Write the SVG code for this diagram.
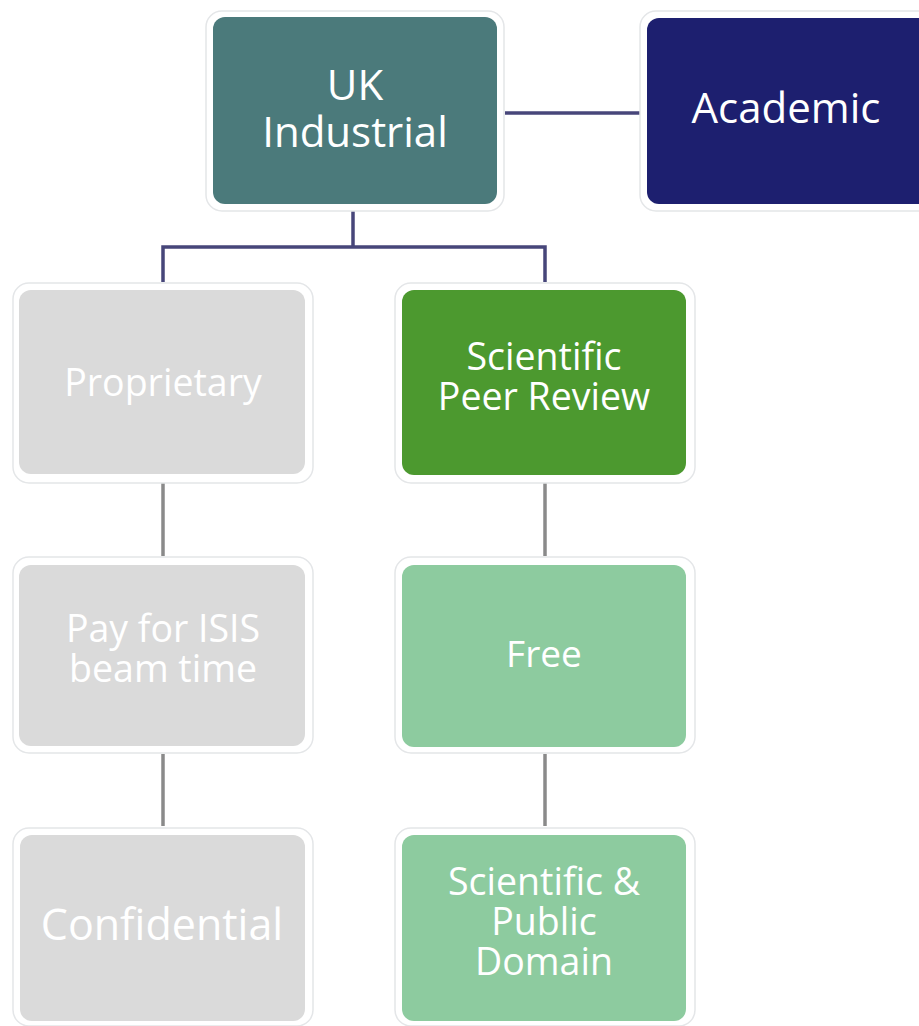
<svg xmlns="http://www.w3.org/2000/svg" width="919" height="1026" viewBox="0 0 919 1026">
  <style>
    .halo { fill: #ffffff; stroke: #e4e6e8; stroke-width: 1.5; }
    .box { stroke: none; }
    .lbl { font-family: "Open Sans", "Noto Sans", sans-serif; fill: #ffffff; text-anchor: middle; }
    .c-dark { stroke: #47467a; stroke-width: 3.5; fill: none; }
    .c-gray { stroke: #8a8a8a; stroke-width: 3.5; fill: none; }
  </style>
  <rect width="919" height="1026" fill="#ffffff"/>
  <g id="connectors">
    <line class="c-dark" x1="505" y1="113" x2="640" y2="113"/>
    <polyline class="c-dark" points="353,210 353,247"/>
    <polyline class="c-dark" points="163,282 163,247 545,247 545,282"/>
    <line class="c-gray" x1="163" y1="480" x2="163" y2="556"/>
    <line class="c-gray" x1="163" y1="754" x2="163" y2="826"/>
    <line class="c-gray" x1="545" y1="480" x2="545" y2="556"/>
    <line class="c-gray" x1="545" y1="754" x2="545" y2="826"/>
  </g>
  <g id="uk-industrial">
    <rect class="halo" x="206" y="11" width="298" height="200" rx="16"/>
    <rect class="box" x="213" y="17" width="284" height="187" rx="12" fill="#4b7a7b"/>
    <text class="lbl" font-size="42" x="355" y="100">UK</text>
    <text class="lbl" font-size="42" x="355" y="147">Industrial</text>
  </g>
  <g id="academic">
    <rect class="halo" x="640" y="11" width="298" height="200" rx="16"/>
    <rect class="box" x="647" y="18" width="284" height="186" rx="12" fill="#1d1f6f"/>
    <text class="lbl" font-size="42" x="786" y="123">Academic</text>
  </g>
  <g id="proprietary">
    <rect class="halo" x="13" y="283" width="300" height="200" rx="16"/>
    <rect class="box" x="19" y="290" width="286" height="184" rx="12" fill="#dadada"/>
    <text class="lbl" font-size="37.5" x="163" y="396">Proprietary</text>
  </g>
  <g id="scientific-peer-review">
    <rect class="halo" x="395" y="283" width="300" height="200" rx="16"/>
    <rect class="box" x="402" y="290" width="284" height="185" rx="12" fill="#4c992f"/>
    <text class="lbl" font-size="37.5" x="544" y="370">Scientific</text>
    <text class="lbl" font-size="37.5" x="544" y="410">Peer Review</text>
  </g>
  <g id="pay-for-isis">
    <rect class="halo" x="13" y="557" width="300" height="196" rx="16"/>
    <rect class="box" x="19" y="565" width="286" height="181" rx="12" fill="#dadada"/>
    <text class="lbl" font-size="37.5" x="163" y="642">Pay for ISIS</text>
    <text class="lbl" font-size="37.5" x="163" y="682">beam time</text>
  </g>
  <g id="free">
    <rect class="halo" x="395" y="557" width="300" height="196" rx="16"/>
    <rect class="box" x="402" y="565" width="284" height="182" rx="12" fill="#8dcb9f"/>
    <text class="lbl" font-size="37" x="544" y="667">Free</text>
  </g>
  <g id="confidential">
    <rect class="halo" x="13" y="828" width="300" height="198" rx="16"/>
    <rect class="box" x="20" y="835" width="285" height="186" rx="12" fill="#dadada"/>
    <text class="lbl" font-size="43" x="162" y="940">Confidential</text>
  </g>
  <g id="scientific-public-domain">
    <rect class="halo" x="395" y="828" width="300" height="198" rx="16"/>
    <rect class="box" x="402" y="835" width="284" height="186" rx="12" fill="#8dcb9f"/>
    <text class="lbl" font-size="37.5" x="544" y="895">Scientific &amp;</text>
    <text class="lbl" font-size="37.5" x="544" y="935">Public</text>
    <text class="lbl" font-size="37.5" x="544" y="975">Domain</text>
  </g>
</svg>
